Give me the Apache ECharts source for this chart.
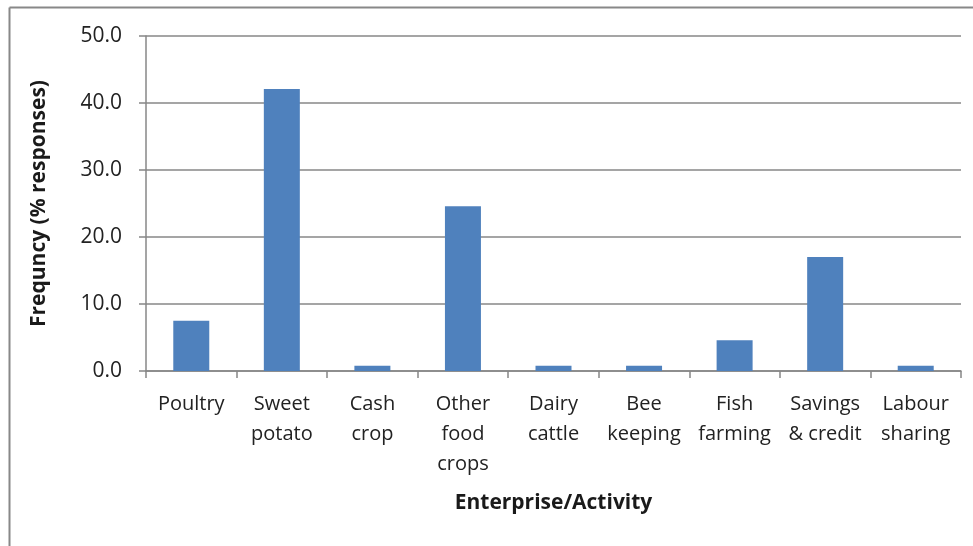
<!DOCTYPE html>
<html><head><meta charset="utf-8">
<script src="https://cdn.jsdelivr.net/npm/echarts@6/dist/echarts.min.js"></script>
<style>html,body{margin:0;padding:0;background:#fff}#c{width:973px;height:546px}</style>
</head><body><div id="c"></div>
<script>
const categories = ["Poultry","Sweet\npotato","Cash\ncrop","Other\nfood\ncrops","Dairy\ncattle","Bee\nkeeping","Fish\nfarming","Savings\n& credit","Labour\nsharing"];
const values = [7.5, 42.1, 0.8, 24.6, 0.8, 0.8, 4.6, 17.0, 0.8];
const yTicks = [0, 10, 50]; // min, interval, max
const chart = echarts.init(document.getElementById('c'));
const font = "'Open Sans', sans-serif";
chart.setOption({
  animation: false,
  graphic: [
    {type:'line', shape:{x1:9.5,y1:7.5,x2:973,y2:7.5}, style:{stroke:'#888',lineWidth:2}},
    {type:'line', shape:{x1:9.5,y1:7.5,x2:9.5,y2:546}, style:{stroke:'#888',lineWidth:2}}
  ],
  grid: {left:146, right:12, top:36, bottom:175, containLabel:false},
  xAxis: {
    type:'category', data: categories,
    name:'Enterprise/Activity', nameLocation:'middle', nameGap:122,
    nameTextStyle:{fontFamily:font, fontWeight:'bold', fontSize:21, color:'#1a1a1a'},
    axisLine:{lineStyle:{color:'#878787', width:1.5}},
    axisTick:{show:true, alignWithLabel:false, length:7, lineStyle:{color:'#878787', width:1.5}},
    axisLabel:{interval:0, fontFamily:font, fontSize:20, color:'#222', lineHeight:30, margin:18}
  },
  yAxis: {
    type:'value', min:yTicks[0], max:yTicks[2], interval:yTicks[1],
    name:'Frequncy (% responses)', nameLocation:'middle', nameGap:96, nameRotate:90,
    nameTextStyle:{fontFamily:font, fontWeight:'bold', fontSize:21, color:'#1a1a1a'},
    axisLine:{show:true, lineStyle:{color:'#878787', width:1.5}},
    axisTick:{show:true, length:7, lineStyle:{color:'#878787', width:1.5}},
    splitLine:{lineStyle:{color:'#878787', width:1.5}},
    axisLabel:{fontFamily:font, fontSize:21, color:'#222', margin:24, formatter:v=>v.toFixed(1)}
  },
  series: [{type:'bar', data: values, barWidth:36, itemStyle:{color:'#4F81BD'}}]
});
</script></body></html>
